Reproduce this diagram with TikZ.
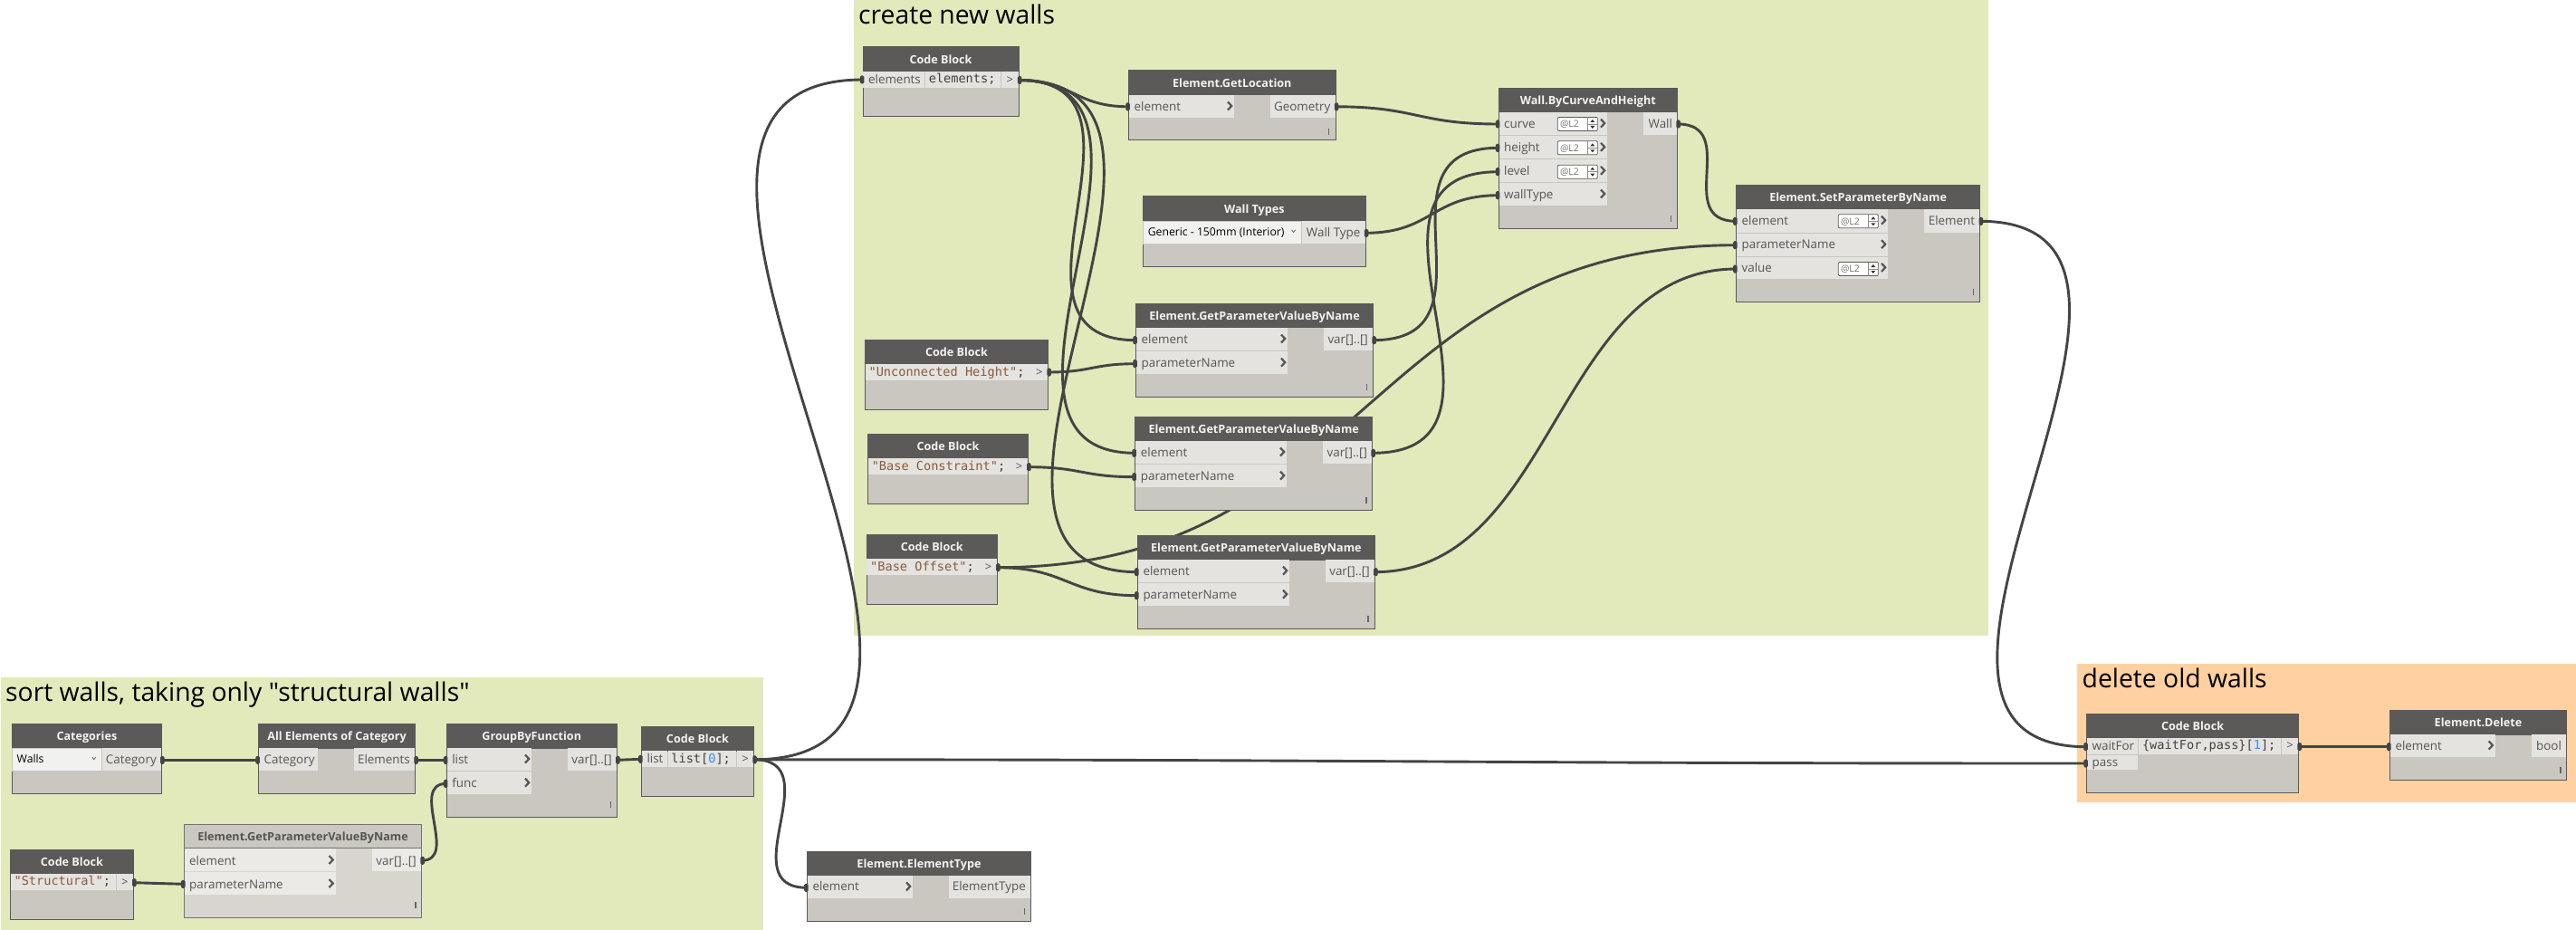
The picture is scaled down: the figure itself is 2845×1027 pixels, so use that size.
\documentclass[tikz,border=0pt]{standalone}
\usepackage{fontspec}
\setmainfont{Open Sans}
\setmonofont{DejaVu Sans Mono}
\newfontfamily\titlefont{Open Sans}
\usetikzlibrary{calc}
\definecolor{grpgreen}{HTML}{E2E9BA}
\definecolor{grporange}{HTML}{FFD1A1}
\definecolor{hdr}{HTML}{5C5A58}
\definecolor{bodyc}{HTML}{CAC6C0}
\definecolor{rowc}{HTML}{E4E3DF}
\definecolor{edgec}{HTML}{5A5A5A}
\definecolor{wirec}{HTML}{444444}
\definecolor{txtc}{HTML}{555555}
\definecolor{strc}{HTML}{8A5A3C}
\definecolor{numc}{HTML}{3A8EE6}
\definecolor{gbody}{HTML}{D8D5CF}
\definecolor{ghdr}{HTML}{CBC7C1}
\definecolor{grow}{HTML}{ECEAE6}
\definecolor{ddc}{HTML}{F1F1EF}
\pgfdeclarelayer{grp}\pgfdeclarelayer{wires}
\pgfsetlayers{grp,wires,main}
\tikzset{
  cellbox/.style={rectangle,inner sep=0pt,outer sep=0pt},
  bodybox/.style={cellbox,draw=edgec,line width=1pt,fill=bodyc},
  hdrbox/.style={cellbox,draw=edgec,line width=1pt,fill=hdr},
  rowbox/.style={cellbox,fill=rowc},
  ddbox/.style={cellbox,fill=ddc,draw=bodyc,line width=.6pt},
  lacebox/.style={cellbox,fill=white,draw=edgec,line width=.8pt,rounded corners=1pt},
  titletxt/.style={inner sep=0pt,font=\titlefont\fontsize{28.3}{32}\selectfont,text=black},
  hdrtxt/.style={inner sep=0pt,font=\fontsize{12.6}{16}\selectfont\bfseries,text=white!95!black},
  rowtxt/.style={inner sep=0pt,font=\fontsize{13.4}{16}\selectfont,text=txtc},
  ddtxt/.style={inner sep=0pt,font=\fontsize{12.2}{16}\selectfont,text=black},
  codetxt/.style={inner sep=0pt,font=\fontsize{13.6}{16}\ttfamily,text=black!75},
  gttxt/.style={inner sep=0pt,font=\fontsize{13}{14}\selectfont,text=txtc},
  lacetxt/.style={inner sep=0pt,font=\fontsize{10.5}{12}\selectfont,text=black!55},
  nubmark/.style={cellbox,fill=wirec,minimum width=4.5pt,minimum height=9pt,rounded corners=1.5pt},
  chev/.style={draw=txtc,line width=2.2pt,line join=miter},
  smallchev/.style={draw=black!55,line width=.9pt},
  grip/.style={draw=black!60,line width=1.6pt},
  wireline/.style={draw=wirec,line width=2.9pt,line cap=round},
}
% generic rectangle node
\newcommand{\cell}[6]{% style,id,x1,y1,x2,y2
  \pgfmathsetmacro\cw{#5-#3}\pgfmathsetmacro\ch{#6-#4}
  \node[#1,anchor=north west,minimum width=\cw pt,minimum height=\ch pt] (#2) at (#3,#4) {};}
% node frame: id x1 y1 x2 y2 headerbottom title
\newcommand{\frameN}[7]{%
  \cell{bodybox}{#1}{#2}{#3}{#4}{#5}
  \cell{hdrbox}{#1h}{#2}{#3}{#4}{#6}
  \pgfmathsetmacro\cx{(#2+#4)/2}\pgfmathsetmacro\cy{(#3+#6)/2+4.7}
  \node[hdrtxt,anchor=base] (#1t) at (\cx,\cy) {#7};}
\newcommand{\grip}[3]{\draw[grip] ($(#2,#3)+(0,0)$) -- ++(0,7);}
% input row w/o chevron
\newcommand{\inplain}[6]{%
  \cell{rowbox}{#1}{#2}{#3}{#4}{#5}
  \pgfmathsetmacro\ty{(#3+#5)/2+4.6}\pgfmathsetmacro\tx{#2+5.5}
  \node[rowtxt,anchor=base west] (#1t) at (\tx,\ty) {#6};}
% input row with chevron
\newcommand{\inrow}[6]{%
  \inplain{#1}{#2}{#3}{#4}{#5}{#6}
  \pgfmathsetmacro\chx{#4-4}\pgfmathsetmacro\chy{(#3+#5)/2-.5}
  \draw[chev,shift={(\chx,\chy)}] (-3,-4.5) -- (1.2,0) -- (-3,4.5);}
% output row
\newcommand{\outrow}[6]{%
  \cell{rowbox}{#1}{#2}{#3}{#4}{#5}
  \pgfmathsetmacro\ty{(#3+#5)/2+4.6}\pgfmathsetmacro\tx{#4-5}
  \node[rowtxt,anchor=base east] (#1t) at (\tx,\ty) {#6};}
% code cell
\newcommand{\codecell}[6]{%
  \cell{rowbox}{#1}{#2}{#3}{#4}{#5}
  \pgfmathsetmacro\ty{#3+13}\pgfmathsetmacro\tx{#2+3.6}
  \node[codetxt,anchor=base west] (#1t) at (\tx,\ty) {#6};}
% ">" cell
\newcommand{\gtcell}[5]{%
  \cell{rowbox}{#1}{#2}{#3}{#4}{#5}
  \pgfmathsetmacro\tx{(#2+#4)/2}\pgfmathsetmacro\ty{(#3+#5)/2+4.2}
  \node[gttxt,anchor=base] (#1t) at (\tx,\ty) {>};}
% dropdown
\newcommand{\dropdown}[6]{%
  \cell{ddbox}{#1}{#2}{#3}{#4}{#5}
  \pgfmathsetmacro\ty{(#3+#5)/2+3.6}\pgfmathsetmacro\tx{#2+5}
  \node[ddtxt,anchor=base west] (#1t) at (\tx,\ty) {#6};
  \pgfmathsetmacro\chx{#4-9}\pgfmathsetmacro\chy{(#3+#5)/2-1}
  \draw[smallchev,shift={(\chx,\chy)}] (-2,-1.5) -- (0,1) -- (2,-1.5);}
% lacing box: id xleft ycentre
\newcommand{\lace}[3]{%
  \pgfmathsetmacro\la{#3-7.5}\pgfmathsetmacro\lb{#3+7.5}\pgfmathsetmacro\lc{#2+44}
  \cell{lacebox}{#1}{#2}{\la}{\lc}{\lb}
  \pgfmathsetmacro\tx{#2+2.5}\pgfmathsetmacro\ty{#3+3.8}
  \node[lacetxt,anchor=base west] (#1t) at (\tx,\ty) {@L2};
  \pgfmathsetmacro\dx{#2+33}
  \draw[draw=black!45,line width=.6pt,shift={(\dx,#3)}] (0,-7.5) -- (0,7.5) (0,0) -- (11,0);
  \fill[black!80,shift={(\dx,#3)}] (3,-2) -- (8,-2) -- (5.5,-5) -- cycle (3,2) -- (8,2) -- (5.5,5) -- cycle;}
\newcommand{\nubIn}[3]{\pgfmathsetmacro\nx{#2-1}\node[nubmark] (#1m) at (\nx,#3) {};\coordinate (#1) at (#2,#3);}
\newcommand{\nubOut}[3]{\pgfmathsetmacro\nx{#2+1}\node[nubmark] (#1m) at (\nx,#3) {};\coordinate (#1) at (#2,#3);}
\newcommand{\wire}[3]{\begin{pgfonlayer}{wires}\draw[wireline] (#1) .. controls +(#3,0) and +(-#3,0) .. (#2);\end{pgfonlayer}}
\begin{document}
\begin{tikzpicture}[x=1pt,y=-1pt]
\useasboundingbox (0,0) rectangle (2845,1027);
% groups
\begin{pgfonlayer}{grp}
\cell{cellbox,fill=grpgreen}{gA}{1}{748}{843}{1027}
\cell{cellbox,fill=grpgreen}{gB}{943}{0}{2196}{702}
\cell{cellbox,fill=grporange}{gC}{2294}{733}{2845}{886}
\node[titletxt,anchor=base west] (gAt) at (6,774) {sort walls, taking only "structural walls"};
\node[titletxt,anchor=base west] (gBt) at (948,27) {create new walls};
\node[titletxt,anchor=base west] (gCt) at (2299.5,759) {delete old walls};
\end{pgfonlayer}
% Categories
\frameN{cat}{13.5}{799.3}{178.3}{876.3}{826}{Categories}
\dropdown{catd}{13.5}{826}{112.7}{851.3}{Walls}
\outrow{cato}{113}{826}{178}{851.3}{Category}
\nubOut{catP}{178.3}{839.3}
% All Elements
\frameN{all}{285.6}{799.3}{458.5}{876.3}{826}{All Elements of Category}
\inplain{alli}{286}{826}{350.7}{851.3}{Category}
\outrow{allo}{390.8}{826}{458}{851.3}{Elements}
\nubIn{allI}{285.6}{839.3}\nubOut{allP}{458.5}{839.3}
% GroupBy
\frameN{grp}{493.2}{799.3}{681.3}{902.3}{826}{GroupByFunction}
\inrow{grpa}{493.6}{826}{587}{851}{list}
\inrow{grpb}{493.6}{852.3}{587}{877}{func}
\outrow{grpo}{627}{826}{681}{851}{var[]..[]}
\grip{grpg}{674.5}{885}
\nubIn{grpI}{493.2}{839.3}\nubIn{grpF}{493.2}{865.3}\nubOut{grpP}{681.3}{839.3}
% list[0]
\frameN{lst}{708.4}{802.3}{832.5}{879.3}{829}{Code Block}
\inplain{lsti}{708.8}{829}{737}{847}{list}
\codecell{lstc}{737.6}{829}{813.2}{847}{list[{\color{numc}0}];}
\gtcell{lstg}{814}{829}{832}{847}
\nubIn{lstI}{708.4}{838.3}\nubOut{lstP}{832.5}{838.8}
% grey GetParam
\cell{bodybox,fill=gbody,draw=black!55}{gpg}{203.3}{910.7}{465.6}{1013.3}
\cell{bodybox,fill=ghdr,draw=black!55}{gpgh}{203.3}{910.7}{465.6}{936.7}
\node[hdrtxt,text=txtc,anchor=base] (gpgt) at (334.5,928.4) {Element.GetParameterValueByName};
\cell{rowbox,fill=grow}{gpga}{203.8}{936.7}{370.7}{962}
\cell{rowbox,fill=grow}{gpgb}{203.8}{963}{370.7}{988}
\node[rowtxt,anchor=base west] (gpgat) at (209,955) {element};
\node[rowtxt,anchor=base west] (gpgbt) at (209,981) {parameterName};
\draw[chev,shift={(366.5,949.5)}] (-3,-4.5) -- (1.2,0) -- (-3,4.5);
\draw[chev,shift={(366.5,975.5)}] (-3,-4.5) -- (1.2,0) -- (-3,4.5);
\cell{rowbox,fill=grow}{gpgo}{410.8}{936.7}{465}{962}
\node[rowtxt,anchor=base east] (gpgot) at (460,955) {var[]..[]};
\grip{gpgg}{459}{996}
\nubIn{gpgI}{203.3}{976.3}\nubOut{gpgP}{465.6}{950.3}
% Structural
\frameN{st}{11.4}{938.3}{147.4}{1015.3}{964.7}{Code Block}
\codecell{stc}{11.8}{964.7}{128}{983}{{\color{strc}"Structural"};}
\gtcell{stg}{128.8}{964.7}{147}{983}
\nubOut{stP}{147.4}{974.7}
% Element type
\frameN{ety}{891.3}{940.3}{1138.7}{1017.3}{966.7}{Element.ElementType}
\inrow{etyi}{891.8}{966.7}{1008}{992}{element}
\outrow{etyo}{1048}{966.7}{1138}{992}{ElementType}
\grip{etyg}{1131.5}{1003}
\nubIn{etyI}{891.3}{980.3}
% Code 1
\frameN{cb}{953}{52}{1125}{129}{79}{Code Block}
\inplain{cbi}{953.4}{79}{1021.3}{97}{elements}
\codecell{cbc}{1022}{79}{1105}{97}{elements;}
\gtcell{cbg}{1106}{79}{1124.6}{97}
\nubIn{cbI}{953}{88}\nubOut{cbP}{1125}{88.5}
% GetLocation
\frameN{gl}{1246.5}{78}{1475}{155}{105}{Element.GetLocation}
\inrow{gli}{1247}{105}{1363}{130}{element}
\outrow{glo}{1403}{105}{1474.6}{130}{Geometry}
\grip{glg}{1467.5}{142}
\nubIn{glI}{1246.5}{117.8}\nubOut{glP}{1475}{117.8}
% Wall types
\frameN{wt}{1262.6}{217}{1508}{294}{244}{Wall Types}
\dropdown{wtd}{1262.6}{244}{1437.6}{269}{Generic - 150mm (Interior)}
\outrow{wto}{1438}{244}{1507.6}{269}{Wall Type}
\nubOut{wtP}{1508}{257.3}
% Wall
\frameN{w}{1655}{97.3}{1852.7}{252}{124}{Wall.ByCurveAndHeight}
\inrow{wa}{1655.5}{124}{1775}{149.3}{curve}
\inrow{wb}{1655.5}{150.3}{1775}{175.3}{height}
\inrow{wc}{1655.5}{176.3}{1775}{201.3}{level}
\inrow{wd}{1655.5}{202.3}{1775}{226.7}{wallType}
\lace{wal}{1720.3}{137}\lace{wbl}{1720.3}{163.3}\lace{wcl}{1720.3}{189.7}
\outrow{wo}{1815}{124}{1852.2}{149.3}{Wall}
\grip{wg}{1845.5}{238}
\nubIn{wI}{1655}{137}\nubIn{wH}{1655}{163.3}\nubIn{wL}{1655}{189.7}\nubIn{wT}{1655}{215.7}\nubOut{wP}{1852.7}{137}
% SetParam
\frameN{sp}{1917.4}{204.3}{2186.8}{333}{230.7}{Element.SetParameterByName}
\inrow{spa}{1917.9}{230.7}{2085}{256.7}{element}
\inrow{spb}{1917.9}{257.7}{2085}{282.7}{parameterName}
\inrow{spc}{1917.9}{283.7}{2085}{308}{value}
\lace{spal}{2030.3}{244.3}\lace{spcl}{2030.3}{297}
\outrow{spo}{2125}{230.7}{2186.3}{256.7}{Element}
\grip{spg}{2179.5}{319}
\nubIn{spE}{1917.4}{244.3}\nubIn{spN}{1917.4}{270.7}\nubIn{spV}{1917.4}{297}\nubOut{spP}{2186.8}{244.3}
% GetParam 1
\frameN{ga}{1254.5}{335}{1516.6}{438.3}{361.7}{Element.GetParameterValueByName}
\inrow{gaa}{1255}{361.7}{1422}{387.3}{element}
\inrow{gab}{1255}{388.3}{1422}{413}{parameterName}
\outrow{gao}{1461.7}{361.7}{1516.1}{387.3}{var[]..[]}
\grip{gag}{1509.5}{424}
\nubIn{gaE}{1254.5}{375.7}\nubIn{gaN}{1254.5}{401.7}\nubOut{gaP}{1516.6}{375.7}
% GetParam 2
\frameN{gb}{1253.7}{460}{1515.7}{563.3}{486.7}{Element.GetParameterValueByName}
\inrow{gba}{1254.2}{486.7}{1421}{512.3}{element}
\inrow{gbb}{1254.2}{513.3}{1421}{538}{parameterName}
\outrow{gbo}{1460.8}{486.7}{1515.2}{512.3}{var[]..[]}
\grip{gbg}{1508.7}{549}
\nubIn{gbE}{1253.7}{500.3}\nubIn{gbN}{1253.7}{526.7}\nubOut{gbP}{1515.7}{500.3}
% GetParam 3
\frameN{gc}{1256.3}{591.3}{1518.4}{694.3}{618}{Element.GetParameterValueByName}
\inrow{gca}{1256.8}{618}{1424}{643.3}{element}
\inrow{gcb}{1256.8}{644.3}{1424}{669}{parameterName}
\outrow{gco}{1464}{618}{1517.9}{643.3}{var[]..[]}
\grip{gcg}{1511}{680}
\nubIn{gcE}{1256.3}{631.7}\nubIn{gcN}{1256.3}{657.7}\nubOut{gcP}{1518.4}{631.7}
% String code blocks
\frameN{cu}{955.4}{375.3}{1157.7}{452.3}{402}{Code Block}
\codecell{cuc}{955.8}{402}{1137.6}{420}{{\color{strc}"Unconnected Height"};}
\gtcell{cug}{1138.4}{402}{1157.2}{420}
\nubOut{cuP}{1157.7}{411}
\frameN{cv}{958.6}{479.3}{1135.4}{556.3}{506}{Code Block}
\codecell{cvc}{959}{506}{1115.6}{524}{{\color{strc}"Base Constraint"};}
\gtcell{cvg}{1116.4}{506}{1135}{524}
\nubOut{cvP}{1135.4}{515.7}
\frameN{co}{957}{590.3}{1101.4}{667.3}{617}{Code Block}
\codecell{coc}{957.4}{617}{1081.6}{635}{{\color{strc}"Base Offset"};}
\gtcell{cog}{1082.4}{617}{1101}{635}
\nubOut{coP}{1101.4}{626.7}
% delete block
\frameN{dc}{2304.5}{788.3}{2538.7}{875.3}{814.7}{Code Block}
\inplain{dca}{2305}{814.7}{2361.4}{832.7}{waitFor}
\inplain{dcb}{2305}{833.7}{2361.4}{850}{pass}
\codecell{dcc}{2362.2}{814.7}{2519.3}{832.7}{\{waitFor,pass\}[{\color{numc}1}];}
\gtcell{dcg}{2520.1}{814.7}{2538.2}{832.7}
\nubIn{dcW}{2304.5}{824.7}\nubIn{dcX}{2304.5}{843}\nubOut{dcP}{2538.7}{824.7}
\frameN{del}{2639.3}{784.3}{2834.6}{861.3}{811}{Element.Delete}
\inrow{deli}{2639.8}{811}{2755.7}{836}{element}
\outrow{delo}{2796}{811}{2834.1}{836}{bool}
\grip{delg}{2827.7}{847}
\nubIn{delI}{2639.3}{824.7}
% wires
\wire{catP}{allI}{54}
\wire{allP}{grpI}{17}
\wire{grpP}{lstI}{14}
\wire{gpgP}{grpF}{42}
\wire{stP}{gpgI}{28}
\wire{lstP}{cbI}{350}
\wire{lstP}{dcX}{700}
\wire{lstP}{etyI}{85}
\wire{cbP}{glI}{60}
\wire{cbP}{gaE}{172}
\wire{cbP}{gbE}{208}
\wire{cbP}{gcE}{260}
\wire{cuP}{gaN}{48}
\wire{cvP}{gbN}{59}
\wire{coP}{gcN}{77}
\wire{coP}{spN}{408}
\wire{gcP}{spV}{200}
\wire{gaP}{wH}{147}
\wire{gbP}{wL}{190}
\wire{wtP}{wT}{74}
\wire{glP}{wI}{90}
\wire{wP}{spE}{70}
\wire{spP}{dcW}{285}
\wire{dcP}{delI}{50}
\end{tikzpicture}
\end{document}
